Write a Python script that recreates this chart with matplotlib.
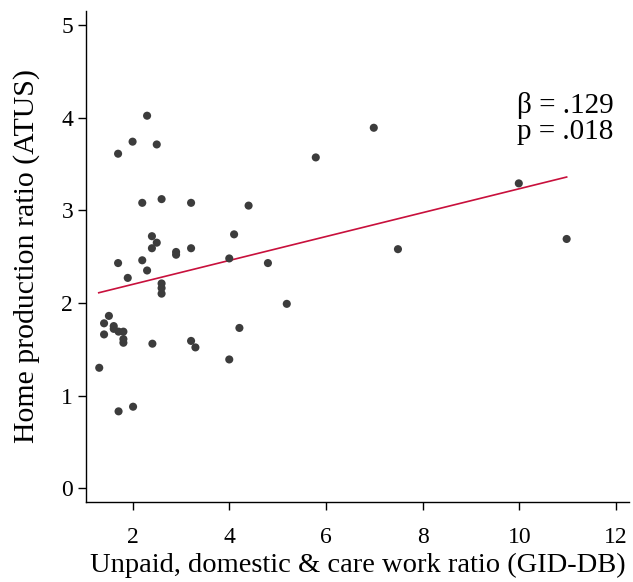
import matplotlib
matplotlib.use("Agg")
import matplotlib.pyplot as plt
import numpy as np

x_vals = [1.31, 1.71, 2.01, 1.70, 2.00, 2.30, 2.50, 2.20, 2.60, 3.21, 4.40, 6.99,
          5.79, 4.10, 4.00, 4.80, 7.49, 9.99, 10.98, 5.19, 4.21, 4.00, 2.40, 2.50,
          2.40, 2.90, 2.90, 3.21, 1.70, 2.20, 2.30, 1.90, 2.60, 2.60, 2.60, 1.51,
          1.41, 1.41, 1.61, 1.61, 1.71, 1.81, 1.81, 1.81, 2.41, 3.21, 3.30]
y_vals = [1.30, 0.83, 0.88, 3.61, 3.74, 4.02, 3.71, 3.08, 3.12, 3.08, 3.05, 3.89,
          3.57, 2.74, 2.48, 2.43, 2.58, 3.29, 2.69, 1.99, 1.73, 1.39, 2.72, 2.65,
          2.59, 2.55, 2.52, 2.59, 2.43, 2.46, 2.35, 2.27, 2.21, 2.16, 2.10, 1.86,
          1.78, 1.66, 1.75, 1.72, 1.69, 1.69, 1.61, 1.57, 1.56, 1.59, 1.52]

fit_slope = 0.129
fit_intercept = 1.942
fit_range = [1.30, 10.98]
annotation = "β = .129\np = .018"

x_ticks = [2, 4, 6, 8, 10, 12]
y_ticks = [0, 1, 2, 3, 4, 5]

plt.rcParams['font.family'] = ['Liberation Serif', 'DejaVu Serif']

fig = plt.figure(figsize=(6.33, 5.82), dpi=100)
ax = fig.add_axes([85.7/633, 1 - 501.7/582, (629 - 85.7)/633, (501.7 - 11)/582])

ax.scatter(x_vals, y_vals, s=34, color='#3c3c3c', edgecolors='none', zorder=3)
fx = np.array(fit_range)
ax.plot(fx, fit_intercept + fit_slope * fx, color='#c8103c', lw=1.2, zorder=2)

ax.set_xlim(1.03, 12.27)
ax.set_ylim(-0.145, 5.15)
ax.set_xticks(x_ticks)
ax.set_yticks(y_ticks)
ax.spines['top'].set_visible(False)
ax.spines['right'].set_visible(False)
for s in ['left', 'bottom']:
    ax.spines[s].set_linewidth(1.0)
ax.tick_params(axis='both', direction='out', length=6, width=1.0, labelsize=17, colors='black')
ax.tick_params(axis='x', pad=12)
ax.tick_params(axis='y', pad=3)

ax.set_xlabel("Unpaid, domestic & care work ratio (GID-DB)", fontsize=20.5, labelpad=4)
ax.set_ylabel("Home production ratio (ATUS)", fontsize=21.5, labelpad=15)

ax.text(9.95, 4.28, annotation, fontsize=21, va='top', ha='left', linespacing=1.02)

fig.savefig("out.png", dpi=100)
